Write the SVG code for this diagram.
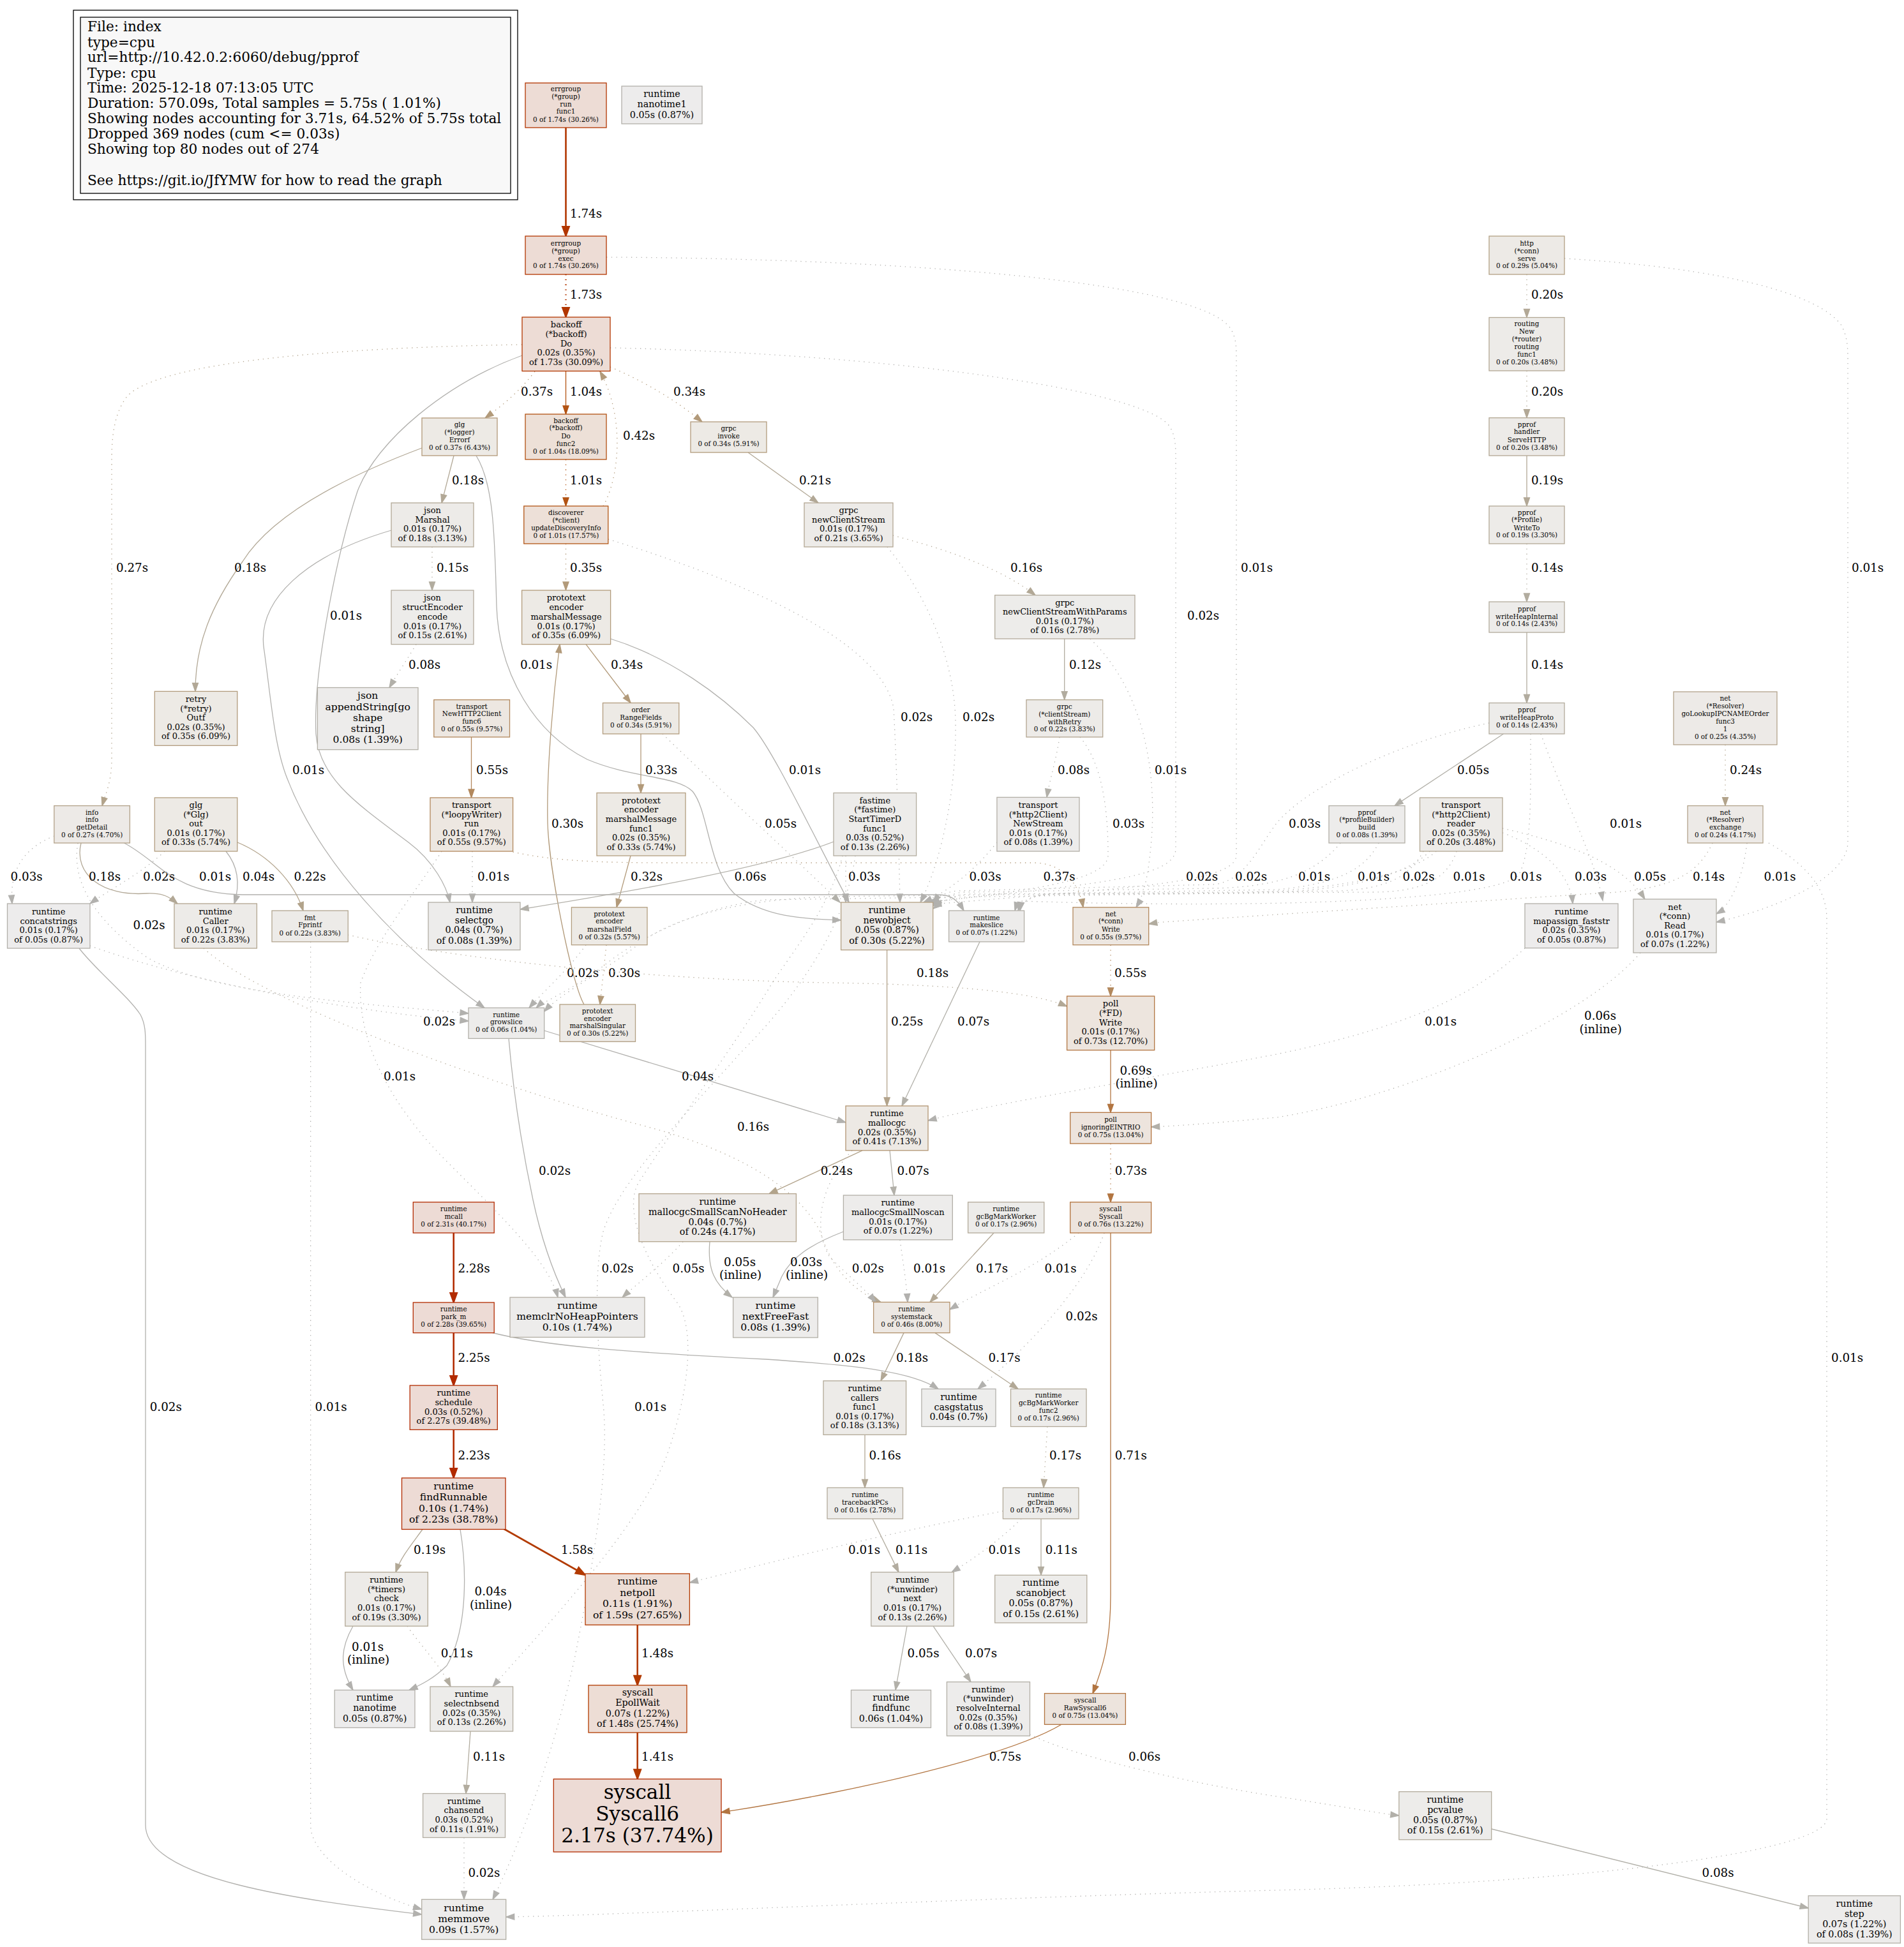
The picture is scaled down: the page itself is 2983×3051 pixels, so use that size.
<svg xmlns="http://www.w3.org/2000/svg" width="2983" height="3051" viewBox="0 0 2983 3051">
<style>
text{font-family:"DejaVu Serif","Liberation Serif",serif;fill:#000}
.node text{text-anchor:middle}
.f8{font-size:10.4px}.f10{font-size:13px}.f11{font-size:14.3px}.f12{font-size:15.6px}.f24{font-size:31.2px}
.node rect{stroke-width:1.3}
#edges path{fill:none;stroke-width:1.3}
#edges path.t{stroke-width:2.6}
#edges path.d{stroke-dasharray:1.3 6.5}
#edges text{font-size:18.3px}
.c1{stroke:#b22b00}.c2{stroke:#b23600}.c3{stroke:#b23a00}.c4{stroke:#b25313}.c5{stroke:#b27541}.c6{stroke:#b2885d}.c7{stroke:#b29a7a}.c8{stroke:#b2a38b}.c9{stroke:#b2a896}.c10{stroke:#b2ac9f}.c11{stroke:#b2b0a9}.c12{stroke:#b2b1ae}
</style>
<defs>
<marker id="m1" markerWidth="16" markerHeight="12" refX="15" refY="6" orient="auto" markerUnits="userSpaceOnUse" overflow="visible"><path d="M0,0.5 L15,6 L0,11.5 z" fill="#b22b00" stroke="#b22b00" stroke-width="2"/></marker>
<marker id="m2" markerWidth="16" markerHeight="12" refX="15" refY="6" orient="auto" markerUnits="userSpaceOnUse" overflow="visible"><path d="M0,0.5 L15,6 L0,11.5 z" fill="#b23600" stroke="#b23600" stroke-width="2"/></marker>
<marker id="m3" markerWidth="16" markerHeight="12" refX="15" refY="6" orient="auto" markerUnits="userSpaceOnUse" overflow="visible"><path d="M0,0.5 L15,6 L0,11.5 z" fill="#b23a00" stroke="#b23a00" stroke-width="2"/></marker>
<marker id="m4" markerWidth="14" markerHeight="10" refX="13" refY="5" orient="auto" markerUnits="userSpaceOnUse" overflow="visible"><path d="M0,0.5 L13,5 L0,9.5 z" fill="#b25313" stroke="#b25313" stroke-width="1.3"/></marker>
<marker id="m5" markerWidth="14" markerHeight="10" refX="13" refY="5" orient="auto" markerUnits="userSpaceOnUse" overflow="visible"><path d="M0,0.5 L13,5 L0,9.5 z" fill="#b27541" stroke="#b27541" stroke-width="1.3"/></marker>
<marker id="m6" markerWidth="14" markerHeight="10" refX="13" refY="5" orient="auto" markerUnits="userSpaceOnUse" overflow="visible"><path d="M0,0.5 L13,5 L0,9.5 z" fill="#b2885d" stroke="#b2885d" stroke-width="1.3"/></marker>
<marker id="m7" markerWidth="14" markerHeight="10" refX="13" refY="5" orient="auto" markerUnits="userSpaceOnUse" overflow="visible"><path d="M0,0.5 L13,5 L0,9.5 z" fill="#b29a7a" stroke="#b29a7a" stroke-width="1.3"/></marker>
<marker id="m8" markerWidth="14" markerHeight="10" refX="13" refY="5" orient="auto" markerUnits="userSpaceOnUse" overflow="visible"><path d="M0,0.5 L13,5 L0,9.5 z" fill="#b2a38b" stroke="#b2a38b" stroke-width="1.3"/></marker>
<marker id="m9" markerWidth="14" markerHeight="10" refX="13" refY="5" orient="auto" markerUnits="userSpaceOnUse" overflow="visible"><path d="M0,0.5 L13,5 L0,9.5 z" fill="#b2a896" stroke="#b2a896" stroke-width="1.3"/></marker>
<marker id="m10" markerWidth="14" markerHeight="10" refX="13" refY="5" orient="auto" markerUnits="userSpaceOnUse" overflow="visible"><path d="M0,0.5 L13,5 L0,9.5 z" fill="#b2ac9f" stroke="#b2ac9f" stroke-width="1.3"/></marker>
<marker id="m11" markerWidth="14" markerHeight="10" refX="13" refY="5" orient="auto" markerUnits="userSpaceOnUse" overflow="visible"><path d="M0,0.5 L13,5 L0,9.5 z" fill="#b2b0a9" stroke="#b2b0a9" stroke-width="1.3"/></marker>
<marker id="m12" markerWidth="14" markerHeight="10" refX="13" refY="5" orient="auto" markerUnits="userSpaceOnUse" overflow="visible"><path d="M0,0.5 L13,5 L0,9.5 z" fill="#b2b1ae" stroke="#b2b1ae" stroke-width="1.3"/></marker>
</defs>
<rect width="2983" height="3051" fill="#ffffff"/>

<g id="legend">
<rect x="115" y="16" width="696" height="297" fill="none" stroke="#000" stroke-width="1.3"/>
<rect x="126" y="27" width="674" height="276" fill="#f8f8f8" stroke="#000" stroke-width="1.3"/>
<g style="font-size:21.7px">
<text x="137" y="49">File: index</text>
<text x="137" y="73.5">type=cpu</text>
<text x="137" y="97">url=http://10.42.0.2:6060/debug/pprof</text>
<text x="137" y="121.5">Type: cpu</text>
<text x="137" y="145">Time: 2025-12-18 07:13:05 UTC</text>
<text x="137" y="169">Duration: 570.09s, Total samples = 5.75s ( 1.01%)</text>
<text x="137" y="193">Showing nodes accounting for 3.71s, 64.52% of 5.75s total</text>
<text x="137" y="217">Dropped 369 nodes (cum &lt;= 0.03s)</text>
<text x="137" y="241">Showing top 80 nodes out of 274</text>
<text x="137" y="290">See https://git.io/JfYMW for how to read the graph</text>
</g>
</g>

<g id="edges">
<path class="t c2" d="M886.5,200 L886.5,370" marker-end="url(#m2)"/><text x="893" y="341">1.74s</text>
<path class="t d c2" d="M886.5,430 L886.5,497" marker-end="url(#m2)"/><text x="893" y="468">1.73s</text>
<path class="c4" d="M886.5,581.5 L886.5,649" marker-end="url(#m4)"/><text x="893" y="620">1.04s</text>
<path class="d c4" d="M886.5,720 L886.5,793" marker-end="url(#m4)"/><text x="893" y="759">1.01s</text>
<path class="d c7" d="M886.5,852 L886.5,925" marker-end="url(#m7)"/><text x="893" y="896">0.35s</text>
<path class="d c7" d="M945,793 C972,745 978,650 940,582" marker-end="url(#m7)"/><text x="976" y="689">0.42s</text>
<path class="d c7" d="M838,582 C815,612 788,635 760,655" marker-end="url(#m7)"/><text x="816" y="620">0.37s</text>
<path class="d c7" d="M956,575 C1010,598 1060,628 1100,661" marker-end="url(#m7)"/><text x="1055" y="620">0.34s</text>
<path class="c9" d="M1172,709 L1282,788" marker-end="url(#m9)"/><text x="1252" y="759">0.21s</text>
<path class="d c9" d="M1399,839 C1470,858 1560,885 1622,932.6" marker-end="url(#m9)"/><text x="1583" y="896">0.16s</text>
<path class="c10" d="M1667.7,1001 L1667.7,1096.6" marker-end="url(#m10)"/><text x="1675" y="1048">0.12s</text>
<path class="d c11" d="M1660,1155 C1655,1190 1645,1220 1640,1249.4" marker-end="url(#m11)"/><text x="1657" y="1213">0.08s</text>
<path class="c9" d="M661,702 C560,740 430,800 380,880 C330,950 306,1010 306,1083.4" marker-end="url(#m9)"/><text x="367" y="896">0.18s</text>
<path class="c9" d="M711,714 L692,788" marker-end="url(#m9)"/><text x="708" y="759">0.18s</text>
<path class="c12" d="M746,714 C775,760 775,850 778,950 C782,1060 840,1150 920,1190 C990,1220 1060,1215 1085,1240 C1110,1270 1110,1360 1150,1400 C1200,1440 1270,1440 1317.6,1442" marker-end="url(#m12)"/><text x="815" y="1048">0.01s</text>
<path class="d c8" d="M818,540 C500,545 250,570 200,620 C180,645 175,680 175,720 L175,1190 C175,1225 165,1245 160,1262.6" marker-end="url(#m8)"/><text x="182" y="896">0.27s</text>
<path class="c12" d="M818,557 C700,600 590,690 560,770 C530,860 490,1050 495,1150 C500,1220 560,1260 640,1320 C680,1350 700,1390 705,1414" marker-end="url(#m12)"/><text x="517" y="971">0.01s</text>
<path class="d c12" d="M956,545 C1400,555 1780,610 1830,665 C1842,680 1842,700 1842,720 L1842,1330 C1842,1378 1700,1386 1452,1414" marker-end="url(#m12)"/><text x="1860" y="971">0.02s</text>
<path class="d c12" d="M950,403 C1400,405 1880,440 1928,515 C1937,530 1937,545 1937,560 L1937,1340 C1937,1385 1750,1392 1461.7,1417" marker-end="url(#m12)"/><text x="1944" y="896">0.01s</text>
<path class="d c12" d="M953,845 C1100,890 1380,990 1400,1110 C1405,1200 1408,1320 1410,1414" marker-end="url(#m12)"/><text x="1411" y="1130">0.02s</text>
<path class="d c12" d="M1390,857 C1450,930 1495,1030 1497,1130 C1499,1250 1470,1360 1442,1414" marker-end="url(#m12)"/><text x="1508" y="1130">0.02s</text>
<path class="c12" d="M956.6,1001 C1050,1030 1130,1090 1180,1140 C1210,1175 1260,1280 1330,1414" marker-end="url(#m12)"/><text x="1236" y="1213">0.01s</text>
<path class="d c11" d="M1038,1150 C1120,1230 1240,1340 1316,1414" marker-end="url(#m11)"/><text x="1198" y="1297">0.05s</text>
<path class="c7" d="M918,1009.7 L988,1101.5" marker-end="url(#m7)"/><text x="957" y="1048">0.34s</text>
<path class="c7" d="M1004,1150 L1004,1242.5" marker-end="url(#m7)"/><text x="1011" y="1213">0.33s</text>
<path class="c7" d="M988,1341 L966,1421.8" marker-end="url(#m7)"/><text x="988" y="1380">0.32s</text>
<path class="d c7" d="M950,1480.7 L940,1574" marker-end="url(#m7)"/><text x="953" y="1531">0.30s</text>
<path class="d c12" d="M918,1480.7 C890,1520 850,1555 829,1579.3" marker-end="url(#m12)"/><text x="888" y="1531">0.02s</text>
<path class="c7" d="M915,1574 C895,1540 860,1360 858,1290 C856,1200 868,1080 877,1009.7" marker-end="url(#m7)"/><text x="864" y="1297">0.30s</text>
<path class="d c10" d="M677,857 L677,925" marker-end="url(#m10)"/><text x="684" y="896">0.15s</text>
<path class="d c11" d="M652,1009.7 C640,1030 620,1060 610,1077.5" marker-end="url(#m11)"/><text x="640" y="1048">0.08s</text>
<path class="c12" d="M613,831 C480,870 400,940 414,1020 C425,1100 430,1170 450,1220 C500,1350 620,1480 759,1579.3" marker-end="url(#m12)"/><text x="458" y="1213">0.01s</text>
<path class="c6" d="M738.5,1155 L738.5,1250" marker-end="url(#m6)"/><text x="746" y="1213">0.55s</text>
<path class="d c7" d="M803.6,1335 C870,1350 950,1352 1050,1352 L1620,1352 C1660,1352 1690,1380 1697,1421.8" marker-end="url(#m7)"/><text x="1634.6" y="1380">0.37s</text>
<path class="d c6" d="M1740,1480.7 L1740,1561" marker-end="url(#m6)"/><text x="1746" y="1531">0.55s</text>
<path class="d c9" d="M545,1465 C700,1500 1000,1535 1300,1540 C1500,1543 1620,1555 1671.6,1577" marker-end="url(#m9)"/><text x="1436" y="1531">0.18s</text>
<path class="c5" d="M1740,1645.6 L1740,1743.3" marker-end="url(#m5)"/><text x="1754.5" y="1684">0.69s</text><text x="1747.4" y="1704">(inline)</text>
<path class="d c5" d="M1740,1792 L1740,1883.8" marker-end="url(#m5)"/><text x="1746.8" y="1841">0.73s</text>
<path class="c5" d="M1740,1932 L1740,2500 C1740,2580 1725,2620 1712,2653.6" marker-end="url(#m5)"/><text x="1746.8" y="2287">0.71s</text>
<path class="c5" d="M1663,2702.3 C1600,2740 1450,2780 1300,2810 C1200,2830 1160,2835 1130,2840" marker-end="url(#m5)"/><text x="1549.7" y="2759">0.75s</text>
<path class="t c1" d="M710.7,1932 L710.7,2041" marker-end="url(#m1)"/><text x="717.5" y="1994">2.28s</text>
<path class="t c1" d="M710.7,2088.6 L710.7,2171" marker-end="url(#m1)"/><text x="717.5" y="2134">2.25s</text>
<path class="t c1" d="M710.7,2240.4 L710.7,2316" marker-end="url(#m1)"/><text x="717.5" y="2287">2.23s</text>
<path class="t c3" d="M788,2395 L917,2468" marker-end="url(#m3)"/><text x="879" y="2435">1.58s</text>
<path class="t c3" d="M998.7,2546.3 L998.7,2640.8" marker-end="url(#m3)"/><text x="1005" y="2597">1.48s</text>
<path class="t c3" d="M998.7,2715 L998.7,2787.8" marker-end="url(#m3)"/><text x="1005" y="2759">1.41s</text>
<path class="c9" d="M662,2396.5 C645,2420 628,2440 620,2463.6" marker-end="url(#m9)"/><text x="648" y="2435">0.19s</text>
<path class="c12" d="M721,2396.5 C730,2450 735,2550 700,2610 C680,2630 660,2640 641,2648.4" marker-end="url(#m12)"/><text x="743.6" y="2500">0.04s</text><text x="736" y="2521">(inline)</text>
<path class="c12" d="M553,2548.2 C535,2580 530,2610 553,2648.4" marker-end="url(#m12)"/><text x="551" y="2587">0.01s</text><text x="544" y="2607">(inline)</text>
<path class="d c10" d="M638,2548.2 C660,2580 690,2610 706,2643" marker-end="url(#m10)"/><text x="690.7" y="2597">0.11s</text>
<path class="c10" d="M737,2713 L730,2810.5" marker-end="url(#m10)"/><text x="741" y="2759">0.11s</text>
<path class="d c12" d="M727,2879.5 L727,2976.4" marker-end="url(#m12)"/><text x="733.4" y="2941">0.02s</text>
<path class="c12" d="M124,1486 C150,1520 200,1560 220,1590 C228,1605 228,1620 228,1640 L228,2860 C228,2950 500,2980 660.7,3000" marker-end="url(#m12)"/><text x="234.7" y="2211">0.02s</text>
<path class="d c12" d="M486.6,1475.8 L486.6,2860 C486.6,2910 570,2965 660.7,2992" marker-end="url(#m12)"/><text x="493.6" y="2211">0.01s</text>
<path class="d c12" d="M85,1310 C35,1330 15,1365 19,1416" marker-end="url(#m12)"/><text x="16.6" y="1380">0.03s</text>
<path class="c9" d="M127,1321 C115,1370 160,1405 230,1400 C255,1399 265,1405 278,1416" marker-end="url(#m9)"/><text x="139" y="1380">0.18s</text>
<path class="d c12" d="M258,1334 C220,1370 170,1395 141,1416" marker-end="url(#m12)"/><text x="224" y="1380">0.02s</text>
<path class="c12" d="M194.5,1321 C250,1350 270,1400 380,1402 L1470,1402 C1490,1402 1500,1410 1510,1427" marker-end="url(#m12)"/><text x="312" y="1380">0.01s</text>
<path class="c12" d="M354,1334 C375,1360 375,1390 367,1416" marker-end="url(#m12)"/><text x="380" y="1380">0.04s</text>
<path class="c8" d="M372,1320 C420,1340 460,1380 475,1427" marker-end="url(#m8)"/><text x="460.5" y="1380">0.22s</text>
<path class="d c12" d="M740,1334 L740,1414" marker-end="url(#m12)"/><text x="748" y="1380">0.01s</text>
<path class="d c12" d="M122,1321 C110,1390 160,1450 230,1500 C330,1560 600,1575 734,1588" marker-end="url(#m12)"/><text x="208.5" y="1456">0.02s</text>
<path class="d c12" d="M141,1482 C300,1540 550,1585 734,1600" marker-end="url(#m12)"/><text x="663" y="1607">0.02s</text>
<path class="d c9" d="M319,1486 C400,1560 700,1680 1000,1762 C1150,1800 1250,1860 1285,1930 C1300,1980 1330,2020 1380,2040.5" marker-end="url(#m9)"/><text x="1155" y="1772">0.16s</text>
<path class="d c12" d="M692,1334 C650,1400 590,1470 565,1540 C560,1620 600,1720 700,1820 C800,1920 860,1980 874,2033" marker-end="url(#m12)"/><text x="601" y="1693">0.01s</text>
<path class="c12" d="M797,1627.4 C805,1720 818,1800 835,1880 C850,1950 870,2000 886,2033" marker-end="url(#m12)"/><text x="844" y="1841">0.02s</text>
<path class="c12" d="M852.7,1615 C1000,1660 1200,1720 1325,1759" marker-end="url(#m12)"/><text x="1068" y="1693">0.04s</text>
<path class="c8" d="M1389.6,1488.6 L1389.6,1733" marker-end="url(#m8)"/><text x="1396" y="1607">0.25s</text>
<path class="c11" d="M1535,1475.8 L1413,1733" marker-end="url(#m11)"/><text x="1500" y="1607">0.07s</text>
<path class="c8" d="M1351,1802.8 L1205,1870.6" marker-end="url(#m8)"/><text x="1285.7" y="1841">0.24s</text>
<path class="c11" d="M1394,1802.8 L1401,1873" marker-end="url(#m11)"/><text x="1405.6" y="1841">0.07s</text>
<path class="c11" d="M1112,1945.7 C1108,1990 1120,2012 1147,2033" marker-end="url(#m11)"/><text x="1134" y="1984">0.05s</text><text x="1127" y="2004">(inline)</text>
<path class="c12" d="M1321.4,1930 C1270,1950 1240,1970 1225,2000 L1211,2033" marker-end="url(#m12)"/><text x="1238" y="1984">0.03s</text><text x="1231" y="2004">(inline)</text>
<path class="d c11" d="M1070,1945.7 C1040,1980 1000,2010 975,2033" marker-end="url(#m11)"/><text x="1053.6" y="1994">0.05s</text>
<path class="d c12" d="M1335,1802.8 C1290,1850 1270,1920 1300,1970 C1330,2000 1355,2020 1372,2040.5" marker-end="url(#m12)"/><text x="1334.8" y="1994">0.02s</text>
<path class="d c12" d="M1410,1942.8 C1415,1980 1420,2010 1422,2040.5" marker-end="url(#m12)"/><text x="1431" y="1994">0.01s</text>
<path class="c9" d="M1557,1932 L1457,2040.5" marker-end="url(#m9)"/><text x="1529" y="1994">0.17s</text>
<path class="d c12" d="M1690,1932 C1620,1990 1540,2020 1488,2052" marker-end="url(#m12)"/><text x="1636.5" y="1994">0.01s</text>
<path class="d c12" d="M1730,1932 C1700,2020 1600,2120 1532,2176.5" marker-end="url(#m12)"/><text x="1669.6" y="2069">0.02s</text>
<path class="c12" d="M766,2087 C850,2110 1000,2120 1200,2130 C1350,2140 1430,2150 1470,2176.5" marker-end="url(#m12)"/><text x="1305.5" y="2134">0.02s</text>
<path class="c9" d="M1416,2088.6 L1380,2163.8" marker-end="url(#m9)"/><text x="1404" y="2134">0.18s</text>
<path class="c9" d="M1465,2088.6 L1595,2176.5" marker-end="url(#m9)"/><text x="1548.5" y="2134">0.17s</text>
<path class="c9" d="M1355,2248.3 L1355,2331.3" marker-end="url(#m9)"/><text x="1361.6" y="2287">0.16s</text>
<path class="d c9" d="M1641,2235.5 L1635,2331.3" marker-end="url(#m9)"/><text x="1644" y="2287">0.17s</text>
<path class="c10" d="M1367,2380 L1408,2463.6" marker-end="url(#m10)"/><text x="1403" y="2435">0.11s</text>
<path class="d c12" d="M1600,2380 C1570,2410 1530,2440 1491,2463.6" marker-end="url(#m12)"/><text x="1548.5" y="2435">0.01s</text>
<path class="c10" d="M1631,2380 L1631,2468.3" marker-end="url(#m10)"/><text x="1637.8" y="2435">0.11s</text>
<path class="d c12" d="M1571.4,2368 C1400,2400 1200,2450 1080.4,2480" marker-end="url(#m12)"/><text x="1329" y="2435">0.01s</text>
<path class="c11" d="M1421,2548.2 L1403,2648.4" marker-end="url(#m11)"/><text x="1421.5" y="2597">0.05s</text>
<path class="c11" d="M1462,2548.2 L1521,2635.6" marker-end="url(#m11)"/><text x="1512" y="2597">0.07s</text>
<path class="d c11" d="M1613.5,2718 C1700,2760 1900,2800 2000,2815 C2100,2830 2150,2840 2191.8,2845" marker-end="url(#m11)"/><text x="1768" y="2759">0.06s</text>
<path class="c11" d="M2336.7,2866 L2833.2,2990" marker-end="url(#m11)"/><text x="2666.5" y="2941">0.08s</text>
<path class="d c12" d="M1320,1341 C1300,1420 1250,1480 1210,1540 C1150,1640 1060,1760 1000,1854 C980,1890 1000,1960 1060,2040 C1090,2080 1080,2180 1045,2280 C1000,2400 830,2575 772,2643" marker-end="url(#m12)"/><text x="994" y="2211">0.01s</text>
<path class="d c12" d="M1340,1341 C1325,1450 1250,1560 1160,1650 C1080,1740 970,1850 945,1930 C930,1990 935,2100 945,2200 C955,2300 930,2450 900,2600 C860,2780 800,2920 772,2976.4" marker-end="url(#m12)"/><text x="942.6" y="1994">0.02s</text>
<path class="d c12" d="M1325,1341 C1325,1370 1325,1395 1325,1414" marker-end="url(#m12)"/><text x="1329" y="1380">0.03s</text>
<path class="c11" d="M1306,1319 C1200,1360 1000,1395 815,1425" marker-end="url(#m11)"/><text x="1150.5" y="1380">0.06s</text>
<path class="d c12" d="M1692,1155 C1730,1200 1736,1280 1736,1340 C1736,1382 1600,1396 1458,1414" marker-end="url(#m12)"/><text x="1743" y="1297">0.03s</text>
<path class="d c12" d="M1562,1320 C1530,1360 1490,1395 1447,1414" marker-end="url(#m12)"/><text x="1518.5" y="1380">0.03s</text>
<path class="d c12" d="M1708,1001 C1790,1080 1810,1200 1805,1300 C1800,1380 1790,1405 1780,1421.8" marker-end="url(#m12)"/><text x="1809" y="1213">0.01s</text>

<path class="d c9" d="M2392,430 L2392,497.5" marker-end="url(#m9)"/><text x="2399" y="468">0.20s</text>
<path class="d c9" d="M2392,581 L2392,654.7" marker-end="url(#m9)"/><text x="2399" y="620">0.20s</text>
<path class="c9" d="M2392,714 L2392,793" marker-end="url(#m9)"/><text x="2399" y="759">0.19s</text>
<path class="d c10" d="M2392,852 L2392,943" marker-end="url(#m10)"/><text x="2399" y="896">0.14s</text>
<path class="c10" d="M2392,991 L2392,1101.5" marker-end="url(#m10)"/><text x="2399" y="1048">0.14s</text>
<path class="c11" d="M2355.5,1150 L2185,1262.6" marker-end="url(#m11)"/><text x="2283" y="1213">0.05s</text>
<path class="d c8" d="M2703,1167 L2703,1262.6" marker-end="url(#m8)"/><text x="2710" y="1213">0.24s</text>
<path class="d c12" d="M2333,1133 C2200,1160 2050,1230 2000,1290 C1970,1330 1950,1382 1900,1386 L1500,1396 C1480,1398 1468,1406 1461.7,1414" marker-end="url(#m12)"/><text x="2019" y="1297">0.03s</text>
<path class="d c12" d="M2100,1321 C2060,1370 2000,1390 1900,1392 L1510,1398 C1490,1400 1475,1408 1461.7,1420" marker-end="url(#m12)"/><text x="2034" y="1380">0.01s</text>
<path class="d c12" d="M2160,1321 C2140,1360 2100,1385 2000,1394 L1650,1400 C1620,1402 1600,1410 1595,1427" marker-end="url(#m12)"/><text x="2127" y="1380">0.01s</text>
<path class="d c12" d="M2230,1334 C2210,1370 2180,1392 2100,1396 L1300,1405 C1150,1410 1050,1440 1000,1480 C950,1520 880,1555 852.7,1585" marker-end="url(#m12)"/><text x="2197.5" y="1380">0.02s</text>
<path class="d c12" d="M2282,1334 C2270,1370 2240,1398 2150,1398 L1520,1401 C1495,1402 1480,1410 1461.7,1424" marker-end="url(#m12)"/><text x="2276.5" y="1380">0.01s</text>
<path class="d c12" d="M2398,1150 C2398,1250 2400,1330 2380,1370 C2350,1410 2000,1425 1600,1412 C1590,1414 1592,1420 1590,1427" marker-end="url(#m12)"/><text x="2365.5" y="1380">0.01s</text>
<path class="d c12" d="M2250,1334 C2200,1380 2050,1398 1900,1400 L1200,1410 C1100,1420 1000,1470 950,1510 C900,1550 850,1570 840,1579.3" marker-end="url(#m12)"/><text x="1858" y="1380">0.02s</text>
<path class="d c12" d="M2240,1334 C2200,1375 2100,1398 1950,1400 L1640,1402 C1615,1404 1600,1414 1598,1427" marker-end="url(#m12)"/><text x="1935" y="1380">0.02s</text>
<path class="d c12" d="M2414,1150 C2450,1250 2500,1350 2511,1411" marker-end="url(#m12)"/><text x="2522" y="1297">0.01s</text>
<path class="d c12" d="M2354,1305 C2420,1330 2460,1370 2464,1416" marker-end="url(#m12)"/><text x="2467" y="1380">0.03s</text>
<path class="d c11" d="M2354,1298 C2450,1320 2540,1350 2577,1409" marker-end="url(#m11)"/><text x="2560" y="1380">0.05s</text>
<path class="d c10" d="M2683,1321 C2660,1370 2620,1395 2500,1400 L1820,1445 C1810,1446 1805,1447 1799.7,1448" marker-end="url(#m10)"/><text x="2652" y="1380">0.14s</text>
<path class="d c12" d="M2737,1321 C2730,1380 2710,1420 2689,1432" marker-end="url(#m12)"/><text x="2763.6" y="1380">0.01s</text>
<path class="d c12" d="M2451,405 C2700,420 2850,460 2885,510 C2893,525 2895,540 2895,560 L2895,1320 C2895,1370 2800,1420 2689,1445" marker-end="url(#m12)"/><text x="2901" y="896">0.01s</text>
<path class="d c12" d="M2771,1321 C2840,1360 2862,1400 2862,1440 L2862,2850 C2862,2900 2500,2950 2000,2962 C1500,2975 1000,3000 792.7,3004" marker-end="url(#m12)"/><text x="2869" y="2134">0.01s</text>
<path class="d c11" d="M2570,1493 C2480,1600 2200,1720 2000,1751 C1900,1760 1850,1764 1803.6,1766" marker-end="url(#m11)"/><text x="2482" y="1598">0.06s</text><text x="2474.6" y="1619">(inline)</text>
<path class="d c12" d="M2389,1486 C2330,1540 2250,1600 2000,1652 C1800,1690 1550,1730 1454,1756" marker-end="url(#m12)"/><text x="2232" y="1607">0.01s</text>
</g>

<g class="node" id="n1"><rect x="823" y="130" width="127" height="70" fill="#eddcd5" stroke="#b23500"/><text class="f8"><tspan x="886.5" y="143">errgroup</tspan><tspan x="886.5" y="154.8">(*group)</tspan><tspan x="886.5" y="166.6">run</tspan><tspan x="886.5" y="178.4">func1</tspan><tspan x="886.5" y="191.1">0 of 1.74s (30.26%)</tspan></text></g>
<g class="node" id="n2"><rect x="974" y="135" width="126" height="59" fill="#edecec" stroke="#b2b0aa"/><text class="f11"><tspan x="1037" y="152">runtime</tspan><tspan x="1037" y="167.8">nanotime1</tspan><tspan x="1037" y="184.5">0.05s (0.87%)</tspan></text></g>
<g class="node" id="n3"><rect x="823" y="370" width="127" height="60" fill="#eddcd5" stroke="#b23500"/><text class="f8"><tspan x="886.5" y="384.5">errgroup</tspan><tspan x="886.5" y="396.5">(*group)</tspan><tspan x="886.5" y="408.5">exec</tspan><tspan x="886.5" y="420">0 of 1.74s (30.26%)</tspan></text></g>
<g class="node" id="n4"><rect x="818" y="497" width="138" height="84.5" fill="#eddcd5" stroke="#b23600"/><text class="f10"><tspan x="887" y="513.1">backoff</tspan><tspan x="887" y="527.9">(*backoff)</tspan><tspan x="887" y="542.6">Do</tspan><tspan x="887" y="557.3">0.02s (0.35%)</tspan><tspan x="887" y="572.1">of 1.73s (30.09%)</tspan></text></g>
<g class="node" id="n5"><rect x="661" y="655" width="118" height="59" fill="#edeae5" stroke="#b29979"/><text class="f8"><tspan x="720" y="668.5">glg</tspan><tspan x="720" y="680.8">(*logger)</tspan><tspan x="720" y="692.6">Errorf</tspan><tspan x="720" y="704.9">0 of 0.37s (6.43%)</tspan></text></g>
<g class="node" id="n6"><rect x="823" y="649" width="127" height="71" fill="#ede0d7" stroke="#b25111"/><text class="f8"><tspan x="886.5" y="662.6">backoff</tspan><tspan x="886.5" y="674.4">(*backoff)</tspan><tspan x="886.5" y="686.7">Do</tspan><tspan x="886.5" y="698.5">func2</tspan><tspan x="886.5" y="710.8">0 of 1.04s (18.09%)</tspan></text></g>
<g class="node" id="n7"><rect x="1082" y="661" width="119" height="48" fill="#edeae5" stroke="#b29b7d"/><text class="f8"><tspan x="1141.5" y="674.9">grpc</tspan><tspan x="1141.5" y="686.7">invoke</tspan><tspan x="1141.5" y="699">0 of 0.34s (5.91%)</tspan></text></g>
<g class="node" id="n8"><rect x="2333" y="370" width="118" height="60" fill="#edeae6" stroke="#b2a084"/><text class="f8"><tspan x="2392" y="384.5">http</tspan><tspan x="2392" y="396.5">(*conn)</tspan><tspan x="2392" y="408.5">serve</tspan><tspan x="2392" y="420">0 of 0.29s (5.04%)</tspan></text></g>
<g class="node" id="n9"><rect x="2333" y="497.5" width="118" height="83.5" fill="#edebe8" stroke="#b2a793"/><text class="f8"><tspan x="2392" y="511.4">routing</tspan><tspan x="2392" y="523.1">New</tspan><tspan x="2392" y="534.9">(*router)</tspan><tspan x="2392" y="547.2">routing</tspan><tspan x="2392" y="559">func1</tspan><tspan x="2392" y="571.3">0 of 0.20s (3.48%)</tspan></text></g>
<g class="node" id="n10"><rect x="2333" y="654.7" width="118" height="59.3" fill="#edebe8" stroke="#b2a793"/><text class="f8"><tspan x="2392" y="668.5">pprof</tspan><tspan x="2392" y="680.3">handler</tspan><tspan x="2392" y="692.6">ServeHTTP</tspan><tspan x="2392" y="704.9">0 of 0.20s (3.48%)</tspan></text></g>
<g class="node" id="n11"><rect x="2333" y="793" width="118" height="59" fill="#edebe8" stroke="#b2a895"/><text class="f8"><tspan x="2392" y="806.5">pprof</tspan><tspan x="2392" y="818.2">(*Profile)</tspan><tspan x="2392" y="830.5">WriteTo</tspan><tspan x="2392" y="842.3">0 of 0.19s (3.30%)</tspan></text></g>
<g class="node" id="n12"><rect x="2333" y="943" width="118" height="48" fill="#edecea" stroke="#b2ab9c"/><text class="f8"><tspan x="2392" y="957.7">pprof</tspan><tspan x="2392" y="969.5">writeHeapInternal</tspan><tspan x="2392" y="981.3">0 of 0.14s (2.43%)</tspan></text></g>
<g class="node" id="n13"><rect x="2333" y="1101.5" width="118" height="48.5" fill="#edecea" stroke="#b2ab9c"/><text class="f8"><tspan x="2392" y="1115.8">pprof</tspan><tspan x="2392" y="1128.1">writeHeapProto</tspan><tspan x="2392" y="1139.9">0 of 0.14s (2.43%)</tspan></text></g>
<g class="node" id="n14"><rect x="2622" y="1084" width="162" height="83" fill="#edeae7" stroke="#b2a28a"/><text class="f8"><tspan x="2703" y="1098.2">net</tspan><tspan x="2703" y="1109.9">(*Resolver)</tspan><tspan x="2703" y="1122.2">goLookupIPCNAMEOrder</tspan><tspan x="2703" y="1134">func3</tspan><tspan x="2703" y="1146.3">1</tspan><tspan x="2703" y="1158.1">0 of 0.25s (4.35%)</tspan></text></g>
<g class="node" id="n15"><rect x="2644" y="1262.6" width="118" height="58.4" fill="#edeae7" stroke="#b2a38b"/><text class="f8"><tspan x="2703" y="1276.5">net</tspan><tspan x="2703" y="1288.2">(*Resolver)</tspan><tspan x="2703" y="1300">exchange</tspan><tspan x="2703" y="1311.8">0 of 0.24s (4.17%)</tspan></text></g>
<g class="node" id="n16"><rect x="2082" y="1262.6" width="119" height="58.4" fill="#edeceb" stroke="#b2afa6"/><text class="f8"><tspan x="2141.5" y="1276.5">pprof</tspan><tspan x="2141.5" y="1288.2">(*profileBuilder)</tspan><tspan x="2141.5" y="1300">build</tspan><tspan x="2141.5" y="1311.8">0 of 0.08s (1.39%)</tspan></text></g>
<g class="node" id="n17"><rect x="2224.5" y="1250" width="129.5" height="84" fill="#edebe8" stroke="#b2a793"/><text class="f10"><tspan x="2289" y="1266">transport</tspan><tspan x="2289" y="1280.7">(*http2Client)</tspan><tspan x="2289" y="1294.9">reader</tspan><tspan x="2289" y="1309.7">0.02s (0.35%)</tspan><tspan x="2289" y="1324.4">of 0.20s (3.48%)</tspan></text></g>
<g class="node" id="n18"><rect x="2389" y="1416" width="146" height="69.6" fill="#edecec" stroke="#b2b0aa"/><text class="f10"><tspan x="2462" y="1432.9">runtime</tspan><tspan x="2462" y="1447.7">mapassign_faststr</tspan><tspan x="2462" y="1461.9">0.02s (0.35%)</tspan><tspan x="2462" y="1476.7">of 0.05s (0.87%)</tspan></text></g>
<g class="node" id="n19"><rect x="2559" y="1409" width="130" height="84" fill="#edeceb" stroke="#b2afa7"/><text class="f10"><tspan x="2624" y="1425.6">net</tspan><tspan x="2624" y="1440.3">(*conn)</tspan><tspan x="2624" y="1455">Read</tspan><tspan x="2624" y="1469.3">0.01s (0.17%)</tspan><tspan x="2624" y="1484">of 0.07s (1.22%)</tspan></text></g>
<g class="node" id="n20"><rect x="1260" y="788" width="139" height="69" fill="#edebe8" stroke="#b2a692"/><text class="f10"><tspan x="1329.5" y="804.3">grpc</tspan><tspan x="1329.5" y="819">newClientStream</tspan><tspan x="1329.5" y="833.3">0.01s (0.17%)</tspan><tspan x="1329.5" y="848">of 0.21s (3.65%)</tspan></text></g>
<g class="node" id="n21"><rect x="1558.7" y="932.6" width="219.3" height="68.4" fill="#edecea" stroke="#b2aa9a"/><text class="f10"><tspan x="1668.3" y="949.2">grpc</tspan><tspan x="1668.3" y="962.9">newClientStreamWithParams</tspan><tspan x="1668.3" y="977.6">0.01s (0.17%)</tspan><tspan x="1668.3" y="992.4">of 0.16s (2.78%)</tspan></text></g>
<g class="node" id="n22"><rect x="1608" y="1096.6" width="119.7" height="58.4" fill="#edebe8" stroke="#b2a590"/><text class="f8"><tspan x="1667.8" y="1110.9">grpc</tspan><tspan x="1667.8" y="1122.7">(*clientStream)</tspan><tspan x="1667.8" y="1134.5">withRetry</tspan><tspan x="1667.8" y="1146.3">0 of 0.22s (3.83%)</tspan></text></g>
<g class="node" id="n23"><rect x="1561.9" y="1249.4" width="129.1" height="84.6" fill="#edeceb" stroke="#b2afa6"/><text class="f10"><tspan x="1626.5" y="1266">transport</tspan><tspan x="1626.5" y="1280.7">(*http2Client)</tspan><tspan x="1626.5" y="1294.9">NewStream</tspan><tspan x="1626.5" y="1309.7">0.01s (0.17%)</tspan><tspan x="1626.5" y="1324.4">of 0.08s (1.39%)</tspan></text></g>
<g class="node" id="n24"><rect x="1306" y="1242.5" width="129.6" height="98.5" fill="#edecea" stroke="#b2ac9e"/><text class="f10"><tspan x="1370.8" y="1259.1">fastime</tspan><tspan x="1370.8" y="1273.3">(*fastime)</tspan><tspan x="1370.8" y="1288">StartTimerD</tspan><tspan x="1370.8" y="1302.8">func1</tspan><tspan x="1370.8" y="1317">0.03s (0.52%)</tspan><tspan x="1370.8" y="1331.8">of 0.13s (2.26%)</tspan></text></g>
<g class="node" id="n25"><rect x="1317.6" y="1414" width="144.1" height="74.6" fill="#edeae6" stroke="#b29f83"/><text class="f11"><tspan x="1389.6" y="1430.9">runtime</tspan><tspan x="1389.6" y="1446.6">newobject</tspan><tspan x="1389.6" y="1462.3">0.05s (0.87%)</tspan><tspan x="1389.6" y="1478.5">of 0.30s (5.22%)</tspan></text></g>
<g class="node" id="n26"><rect x="1486.6" y="1427" width="118" height="48.8" fill="#edeceb" stroke="#b2afa7"/><text class="f8"><tspan x="1545.6" y="1441.5">runtime</tspan><tspan x="1545.6" y="1453.3">makeslice</tspan><tspan x="1545.6" y="1465.1">0 of 0.07s (1.22%)</tspan></text></g>
<g class="node" id="n27"><rect x="1681" y="1421.8" width="118.7" height="58.9" fill="#ede7e1" stroke="#b2885d"/><text class="f8"><tspan x="1740.3" y="1435.5">net</tspan><tspan x="1740.3" y="1447.4">(*conn)</tspan><tspan x="1740.3" y="1459.6">Write</tspan><tspan x="1740.3" y="1471.5">0 of 0.55s (9.57%)</tspan></text></g>
<g class="node" id="n28"><rect x="613" y="788" width="129" height="69" fill="#edebe8" stroke="#b2a896"/><text class="f10"><tspan x="677.5" y="804.3">json</tspan><tspan x="677.5" y="819">Marshal</tspan><tspan x="677.5" y="833.3">0.01s (0.17%)</tspan><tspan x="677.5" y="848">of 0.18s (3.13%)</tspan></text></g>
<g class="node" id="n29"><rect x="820.8" y="793" width="132" height="59" fill="#ede0d8" stroke="#b25515"/><text class="f8"><tspan x="886.8" y="806.5">discoverer</tspan><tspan x="886.8" y="818.7">(*client)</tspan><tspan x="886.8" y="830.5">updateDiscoveryInfo</tspan><tspan x="886.8" y="842.8">0 of 1.01s (17.57%)</tspan></text></g>
<g class="node" id="n30"><rect x="613" y="925" width="129" height="84.7" fill="#edecea" stroke="#b2aa9b"/><text class="f10"><tspan x="677.5" y="941.3">json</tspan><tspan x="677.5" y="956">structEncoder</tspan><tspan x="677.5" y="970.8">encode</tspan><tspan x="677.5" y="985.5">0.01s (0.17%)</tspan><tspan x="677.5" y="999.7">of 0.15s (2.61%)</tspan></text></g>
<g class="node" id="n31"><rect x="817.6" y="925" width="139" height="84.7" fill="#edeae5" stroke="#b29b7c"/><text class="f10"><tspan x="887.1" y="941.3">prototext</tspan><tspan x="887.1" y="956">encoder</tspan><tspan x="887.1" y="970.8">marshalMessage</tspan><tspan x="887.1" y="985.5">0.01s (0.17%)</tspan><tspan x="887.1" y="999.7">of 0.35s (6.09%)</tspan></text></g>
<g class="node" id="n32"><rect x="242.3" y="1083.4" width="129.5" height="84.9" fill="#edeae5" stroke="#b29b7c"/><text class="f10"><tspan x="307" y="1099.9">retry</tspan><tspan x="307" y="1114.7">(*retry)</tspan><tspan x="307" y="1128.9">Outf</tspan><tspan x="307" y="1143.7">0.02s (0.35%)</tspan><tspan x="307" y="1158.4">of 0.35s (6.09%)</tspan></text></g>
<g class="node" id="n33"><rect x="497.4" y="1077.5" width="157.6" height="97.2" fill="#edeceb" stroke="#b2afa6"/><text class="f12"><tspan x="576.2" y="1095.3">json</tspan><tspan x="576.2" y="1112.5">appendString[go</tspan><tspan x="576.2" y="1129.7">shape</tspan><tspan x="576.2" y="1146.9">string]</tspan><tspan x="576.2" y="1164.1">0.08s (1.39%)</tspan></text></g>
<g class="node" id="n34"><rect x="679.8" y="1096.6" width="118.7" height="58.4" fill="#ede7e1" stroke="#b2885d"/><text class="f8"><tspan x="739.1" y="1110.5">transport</tspan><tspan x="739.1" y="1122.2">NewHTTP2Client</tspan><tspan x="739.1" y="1134">func6</tspan><tspan x="739.1" y="1146.3">0 of 0.55s (9.57%)</tspan></text></g>
<g class="node" id="n35"><rect x="944.5" y="1101.5" width="119.3" height="48.5" fill="#edeae5" stroke="#b29b7d"/><text class="f8"><tspan x="1004.1" y="1115.8">order</tspan><tspan x="1004.1" y="1128.1">RangeFields</tspan><tspan x="1004.1" y="1139.9">0 of 0.34s (5.91%)</tspan></text></g>
<g class="node" id="n36"><rect x="84.8" y="1262.6" width="118.6" height="58.4" fill="#edeae7" stroke="#b2a188"/><text class="f8"><tspan x="144.1" y="1276.5">info</tspan><tspan x="144.1" y="1288.2">info</tspan><tspan x="144.1" y="1300">getDetail</tspan><tspan x="144.1" y="1312.3">0 of 0.27s (4.70%)</tspan></text></g>
<g class="node" id="n37"><rect x="242.3" y="1250" width="129.5" height="84" fill="#edeae5" stroke="#b29d7f"/><text class="f10"><tspan x="307" y="1266">glg</tspan><tspan x="307" y="1280.7">(*Glg)</tspan><tspan x="307" y="1295.4">out</tspan><tspan x="307" y="1310.1">0.01s (0.17%)</tspan><tspan x="307" y="1324.4">of 0.33s (5.74%)</tspan></text></g>
<g class="node" id="n38"><rect x="674" y="1250" width="129.6" height="84" fill="#ede7e1" stroke="#b2885d"/><text class="f10"><tspan x="738.8" y="1266">transport</tspan><tspan x="738.8" y="1280.7">(*loopyWriter)</tspan><tspan x="738.8" y="1295.4">run</tspan><tspan x="738.8" y="1310.1">0.01s (0.17%)</tspan><tspan x="738.8" y="1324.4">of 0.55s (9.57%)</tspan></text></g>
<g class="node" id="n39"><rect x="935" y="1242.5" width="139" height="98.5" fill="#edeae5" stroke="#b29d7f"/><text class="f10"><tspan x="1004.5" y="1259.1">prototext</tspan><tspan x="1004.5" y="1273.3">encoder</tspan><tspan x="1004.5" y="1288">marshalMessage</tspan><tspan x="1004.5" y="1302.8">func1</tspan><tspan x="1004.5" y="1317">0.02s (0.35%)</tspan><tspan x="1004.5" y="1331.8">of 0.33s (5.74%)</tspan></text></g>
<g class="node" id="n40"><rect x="11.5" y="1416" width="129.5" height="70" fill="#edecec" stroke="#b2b0aa"/><text class="f10"><tspan x="76.2" y="1432.9">runtime</tspan><tspan x="76.2" y="1447.7">concatstrings</tspan><tspan x="76.2" y="1462.4">0.01s (0.17%)</tspan><tspan x="76.2" y="1477.2">of 0.05s (0.87%)</tspan></text></g>
<g class="node" id="n41"><rect x="273" y="1416" width="129.4" height="70" fill="#edebe8" stroke="#b2a590"/><text class="f10"><tspan x="337.7" y="1432.9">runtime</tspan><tspan x="337.7" y="1447.7">Caller</tspan><tspan x="337.7" y="1462.4">0.01s (0.17%)</tspan><tspan x="337.7" y="1477.2">of 0.22s (3.83%)</tspan></text></g>
<g class="node" id="n42"><rect x="426" y="1427" width="119.3" height="48.8" fill="#edebe8" stroke="#b2a590"/><text class="f8"><tspan x="485.6" y="1441.5">fmt</tspan><tspan x="485.6" y="1453.3">Fprintf</tspan><tspan x="485.6" y="1465.5">0 of 0.22s (3.83%)</tspan></text></g>
<g class="node" id="n43"><rect x="671" y="1414" width="144" height="74.6" fill="#edeceb" stroke="#b2afa6"/><text class="f11"><tspan x="743" y="1430.9">runtime</tspan><tspan x="743" y="1446.6">selectgo</tspan><tspan x="743" y="1462.3">0.04s (0.7%)</tspan><tspan x="743" y="1478.5">of 0.08s (1.39%)</tspan></text></g>
<g class="node" id="n44"><rect x="895.4" y="1421.8" width="118.6" height="58.9" fill="#edeae5" stroke="#b29e80"/><text class="f8"><tspan x="954.7" y="1435.5">prototext</tspan><tspan x="954.7" y="1447.4">encoder</tspan><tspan x="954.7" y="1459.6">marshalField</tspan><tspan x="954.7" y="1471.5">0 of 0.32s (5.57%)</tspan></text></g>
<g class="node" id="n45"><rect x="734" y="1579.3" width="118.7" height="48.1" fill="#edeceb" stroke="#b2b0a9"/><text class="f8"><tspan x="793.3" y="1593.5">runtime</tspan><tspan x="793.3" y="1605.4">growslice</tspan><tspan x="793.3" y="1617.2">0 of 0.06s (1.04%)</tspan></text></g>
<g class="node" id="n46"><rect x="877" y="1574" width="118.5" height="58.3" fill="#edeae6" stroke="#b29f83"/><text class="f8"><tspan x="936.2" y="1587.7">prototext</tspan><tspan x="936.2" y="1599.5">encoder</tspan><tspan x="936.2" y="1611.3">marshalSingular</tspan><tspan x="936.2" y="1623.1">0 of 0.30s (5.22%)</tspan></text></g>
<g class="node" id="n47"><rect x="647.3" y="1883.8" width="126.9" height="48.2" fill="#eddbd5" stroke="#b22a00"/><text class="f8"><tspan x="710.7" y="1898.1">runtime</tspan><tspan x="710.7" y="1909.9">mcall</tspan><tspan x="710.7" y="1922.2">0 of 2.31s (40.17%)</tspan></text></g>
<g class="node" id="n48"><rect x="647.3" y="2041" width="126.9" height="47.6" fill="#eddbd5" stroke="#b22b00"/><text class="f8"><tspan x="710.7" y="2055.3">runtime</tspan><tspan x="710.7" y="2067.1">park_m</tspan><tspan x="710.7" y="2078.9">0 of 2.28s (39.65%)</tspan></text></g>
<g class="node" id="n49"><rect x="642.2" y="2171" width="137.1" height="69.4" fill="#eddbd5" stroke="#b22b00"/><text class="f10"><tspan x="710.7" y="2187.3">runtime</tspan><tspan x="710.7" y="2202">schedule</tspan><tspan x="710.7" y="2216.7">0.03s (0.52%)</tspan><tspan x="710.7" y="2231.3">of 2.27s (39.48%)</tspan></text></g>
<g class="node" id="n50"><rect x="799" y="2033" width="211" height="62.5" fill="#edeceb" stroke="#b2ada2"/><text class="f12"><tspan x="904.5" y="2051.1">runtime</tspan><tspan x="904.5" y="2068.1">memclrNoHeapPointers</tspan><tspan x="904.5" y="2085.4">0.10s (1.74%)</tspan></text></g>
<g class="node" id="n51"><rect x="1671.6" y="1561" width="137.1" height="84.6" fill="#ede5de" stroke="#b27541"/><text class="f10"><tspan x="1740.1" y="1577.3">poll</tspan><tspan x="1740.1" y="1591.9">(*FD)</tspan><tspan x="1740.1" y="1606.7">Write</tspan><tspan x="1740.1" y="1621.4">0.01s (0.17%)</tspan><tspan x="1740.1" y="1635.7">of 0.73s (12.70%)</tspan></text></g>
<g class="node" id="n52"><rect x="1325" y="1733" width="129" height="69.8" fill="#ede9e4" stroke="#b29572"/><text class="f10"><tspan x="1389.5" y="1749.1">runtime</tspan><tspan x="1389.5" y="1763.8">mallocgc</tspan><tspan x="1389.5" y="1778.6">0.02s (0.35%)</tspan><tspan x="1389.5" y="1792.8">of 0.41s (7.13%)</tspan></text></g>
<g class="node" id="n53"><rect x="1676.7" y="1743.3" width="126.9" height="48.7" fill="#ede4dd" stroke="#b2733e"/><text class="f8"><tspan x="1740.1" y="1758.1">poll</tspan><tspan x="1740.1" y="1769.9">ignoringEINTRIO</tspan><tspan x="1740.1" y="1782.2">0 of 0.75s (13.04%)</tspan></text></g>
<g class="node" id="n54"><rect x="1001" y="1870.6" width="246.4" height="75.1" fill="#edeae7" stroke="#b2a38c"/><text class="f11"><tspan x="1124.2" y="1887.5">runtime</tspan><tspan x="1124.2" y="1903.7">mallocgcSmallScanNoHeader</tspan><tspan x="1124.2" y="1919.5">0.04s (0.7%)</tspan><tspan x="1124.2" y="1935.2">of 0.24s (4.17%)</tspan></text></g>
<g class="node" id="n55"><rect x="1321.4" y="1873" width="170.9" height="69.8" fill="#edeceb" stroke="#b2afa7"/><text class="f10"><tspan x="1406.8" y="1889.1">runtime</tspan><tspan x="1406.8" y="1903.8">mallocgcSmallNoscan</tspan><tspan x="1406.8" y="1918.6">0.01s (0.17%)</tspan><tspan x="1406.8" y="1933.3">of 0.07s (1.22%)</tspan></text></g>
<g class="node" id="n56"><rect x="1516.6" y="1883.8" width="119.2" height="48.2" fill="#edecea" stroke="#b2a998"/><text class="f8"><tspan x="1576.2" y="1898.1">runtime</tspan><tspan x="1576.2" y="1909.9">gcBgMarkWorker</tspan><tspan x="1576.2" y="1922.2">0 of 0.17s (2.96%)</tspan></text></g>
<g class="node" id="n57"><rect x="1676.7" y="1883.8" width="126.9" height="48.2" fill="#ede4dd" stroke="#b2723c"/><text class="f8"><tspan x="1740.1" y="1898.1">syscall</tspan><tspan x="1740.1" y="1909.9">Syscall</tspan><tspan x="1740.1" y="1922.2">0 of 0.76s (13.22%)</tspan></text></g>
<g class="node" id="n58"><rect x="1148.6" y="2033" width="132.7" height="63" fill="#edeceb" stroke="#b2afa6"/><text class="f12"><tspan x="1215" y="2051.1">runtime</tspan><tspan x="1215" y="2068.1">nextFreeFast</tspan><tspan x="1215" y="2085.4">0.08s (1.39%)</tspan></text></g>
<g class="node" id="n59"><rect x="1368.6" y="2040.5" width="119.4" height="48.1" fill="#ede8e3" stroke="#b2916b"/><text class="f8"><tspan x="1428.3" y="2055.3">runtime</tspan><tspan x="1428.3" y="2067.1">systemstack</tspan><tspan x="1428.3" y="2078.9">0 of 0.46s (8.00%)</tspan></text></g>
<g class="node" id="n60"><rect x="1290" y="2163.8" width="129.6" height="84.5" fill="#edebe8" stroke="#b2a896"/><text class="f10"><tspan x="1354.8" y="2179.9">runtime</tspan><tspan x="1354.8" y="2194.6">callers</tspan><tspan x="1354.8" y="2208.8">func1</tspan><tspan x="1354.8" y="2224">0.01s (0.17%)</tspan><tspan x="1354.8" y="2238.3">of 0.18s (3.13%)</tspan></text></g>
<g class="node" id="n61"><rect x="1443.9" y="2176.5" width="116.1" height="59" fill="#ededec" stroke="#b2b1ac"/><text class="f11"><tspan x="1502" y="2193.5">runtime</tspan><tspan x="1502" y="2209.7">casgstatus</tspan><tspan x="1502" y="2225.4">0.04s (0.7%)</tspan></text></g>
<g class="node" id="n62"><rect x="1583.5" y="2176.5" width="118.5" height="59" fill="#edecea" stroke="#b2a998"/><text class="f8"><tspan x="1642.7" y="2190.3">runtime</tspan><tspan x="1642.7" y="2202.1">gcBgMarkWorker</tspan><tspan x="1642.7" y="2213.9">func2</tspan><tspan x="1642.7" y="2226.2">0 of 0.17s (2.96%)</tspan></text></g>
<g class="node" id="n63"><rect x="629.5" y="2316" width="162.5" height="80.5" fill="#eddbd5" stroke="#b22c00"/><text class="f12"><tspan x="710.7" y="2334.1">runtime</tspan><tspan x="710.7" y="2351.1">findRunnable</tspan><tspan x="710.7" y="2368.5">0.10s (1.74%)</tspan><tspan x="710.7" y="2386.1">of 2.23s (38.78%)</tspan></text></g>
<g class="node" id="n64"><rect x="540.8" y="2463.6" width="129.5" height="84.6" fill="#edebe8" stroke="#b2a895"/><text class="f10"><tspan x="605.5" y="2480.3">runtime</tspan><tspan x="605.5" y="2494.8">(*timers)</tspan><tspan x="605.5" y="2509">check</tspan><tspan x="605.5" y="2524.1">0.01s (0.17%)</tspan><tspan x="605.5" y="2538.8">of 0.19s (3.30%)</tspan></text></g>
<g class="node" id="n65"><rect x="917" y="2466" width="163.4" height="80.3" fill="#edddd5" stroke="#b23900"/><text class="f12"><tspan x="998.7" y="2483.1">runtime</tspan><tspan x="998.7" y="2500.8">netpoll</tspan><tspan x="998.7" y="2518.3">0.11s (1.91%)</tspan><tspan x="998.7" y="2535.8">of 1.59s (27.65%)</tspan></text></g>
<g class="node" id="n66"><rect x="524.2" y="2648.4" width="125.8" height="59" fill="#edecec" stroke="#b2b0aa"/><text class="f11"><tspan x="587.1" y="2665.4">runtime</tspan><tspan x="587.1" y="2681.4">nanotime</tspan><tspan x="587.1" y="2697.5">0.05s (0.87%)</tspan></text></g>
<g class="node" id="n67"><rect x="674" y="2643" width="129.6" height="70" fill="#edecea" stroke="#b2ac9e"/><text class="f10"><tspan x="738.8" y="2659.3">runtime</tspan><tspan x="738.8" y="2673.9">selectnbsend</tspan><tspan x="738.8" y="2688.6">0.02s (0.35%)</tspan><tspan x="738.8" y="2703.3">of 0.13s (2.26%)</tspan></text></g>
<g class="node" id="n68"><rect x="922" y="2640.8" width="154" height="74.2" fill="#edddd5" stroke="#b23b00"/><text class="f11"><tspan x="999" y="2657.3">syscall</tspan><tspan x="999" y="2673.4">EpollWait</tspan><tspan x="999" y="2689.5">0.07s (1.22%)</tspan><tspan x="999" y="2705.5">of 1.48s (25.74%)</tspan></text></g>
<g class="node" id="n69"><rect x="662.6" y="2810.5" width="128.9" height="69" fill="#edecea" stroke="#b2ada1"/><text class="f10"><tspan x="727" y="2826.6">runtime</tspan><tspan x="727" y="2841.3">chansend</tspan><tspan x="727" y="2855.9">0.03s (0.52%)</tspan><tspan x="727" y="2870.5">of 0.11s (1.91%)</tspan></text></g>
<g class="node" id="n70"><rect x="867.3" y="2787.8" width="262.7" height="114.2" fill="#eddbd5" stroke="#b22d00"/><text class="f24"><tspan x="998.6" y="2818.9">syscall</tspan><tspan x="998.6" y="2853.3">Syscall6</tspan><tspan x="998.6" y="2887.3">2.17s (37.74%)</tspan></text></g>
<g class="node" id="n71"><rect x="660.7" y="2976.4" width="132" height="62.8" fill="#edeceb" stroke="#b2aea4"/><text class="f12"><tspan x="726.7" y="2994.7">runtime</tspan><tspan x="726.7" y="3011.7">memmove</tspan><tspan x="726.7" y="3028.7">0.09s (1.57%)</tspan></text></g>
<g class="node" id="n72"><rect x="1296" y="2331.3" width="118.5" height="48.7" fill="#edecea" stroke="#b2aa9a"/><text class="f8"><tspan x="1355.2" y="2346.1">runtime</tspan><tspan x="1355.2" y="2357.9">tracebackPCs</tspan><tspan x="1355.2" y="2369.7">0 of 0.16s (2.78%)</tspan></text></g>
<g class="node" id="n73"><rect x="1571.4" y="2331.3" width="118.6" height="48.7" fill="#edecea" stroke="#b2a998"/><text class="f8"><tspan x="1630.7" y="2346.1">runtime</tspan><tspan x="1630.7" y="2357.9">gcDrain</tspan><tspan x="1630.7" y="2369.7">0 of 0.17s (2.96%)</tspan></text></g>
<g class="node" id="n74"><rect x="1364.8" y="2463.6" width="129.5" height="84.6" fill="#edecea" stroke="#b2ac9e"/><text class="f10"><tspan x="1429.5" y="2480.3">runtime</tspan><tspan x="1429.5" y="2494.8">(*unwinder)</tspan><tspan x="1429.5" y="2509">next</tspan><tspan x="1429.5" y="2524.1">0.01s (0.17%)</tspan><tspan x="1429.5" y="2538.8">of 0.13s (2.26%)</tspan></text></g>
<g class="node" id="n75"><rect x="1558.7" y="2468.3" width="144.1" height="74.7" fill="#edecea" stroke="#b2aa9b"/><text class="f11"><tspan x="1630.7" y="2485.3">runtime</tspan><tspan x="1630.7" y="2501.4">scanobject</tspan><tspan x="1630.7" y="2517.4">0.05s (0.87%)</tspan><tspan x="1630.7" y="2533.5">of 0.15s (2.61%)</tspan></text></g>
<g class="node" id="n76"><rect x="1333.5" y="2648.4" width="125" height="59" fill="#edeceb" stroke="#b2b0a9"/><text class="f11"><tspan x="1396" y="2665.4">runtime</tspan><tspan x="1396" y="2681.4">findfunc</tspan><tspan x="1396" y="2697.5">0.06s (1.04%)</tspan></text></g>
<g class="node" id="n77"><rect x="1483.4" y="2635.6" width="130.1" height="84.6" fill="#edeceb" stroke="#b2afa6"/><text class="f10"><tspan x="1548.5" y="2652.3">runtime</tspan><tspan x="1548.5" y="2666.3">(*unwinder)</tspan><tspan x="1548.5" y="2681">resolveInternal</tspan><tspan x="1548.5" y="2695.7">0.02s (0.35%)</tspan><tspan x="1548.5" y="2710.3">of 0.08s (1.39%)</tspan></text></g>
<g class="node" id="n78"><rect x="1636.5" y="2653.6" width="126.9" height="48.7" fill="#ede4dd" stroke="#b2733e"/><text class="f8"><tspan x="1700" y="2667.9">syscall</tspan><tspan x="1700" y="2679.8">RawSyscall6</tspan><tspan x="1700" y="2691.5">0 of 0.75s (13.04%)</tspan></text></g>
<g class="node" id="n79"><rect x="2191.8" y="2807.6" width="144.9" height="75.2" fill="#edecea" stroke="#b2aa9b"/><text class="f11"><tspan x="2264.2" y="2824.7">runtime</tspan><tspan x="2264.2" y="2840.7">pcvalue</tspan><tspan x="2264.2" y="2856.7">0.05s (0.87%)</tspan><tspan x="2264.2" y="2872.8">of 0.15s (2.61%)</tspan></text></g>
<g class="node" id="n80"><rect x="2833.2" y="2970.7" width="144.2" height="74.2" fill="#edeceb" stroke="#b2afa6"/><text class="f11"><tspan x="2905.3" y="2987.7">runtime</tspan><tspan x="2905.3" y="3003.7">step</tspan><tspan x="2905.3" y="3019.7">0.07s (1.22%)</tspan><tspan x="2905.3" y="3035.9">of 0.08s (1.39%)</tspan></text></g>
</svg>
